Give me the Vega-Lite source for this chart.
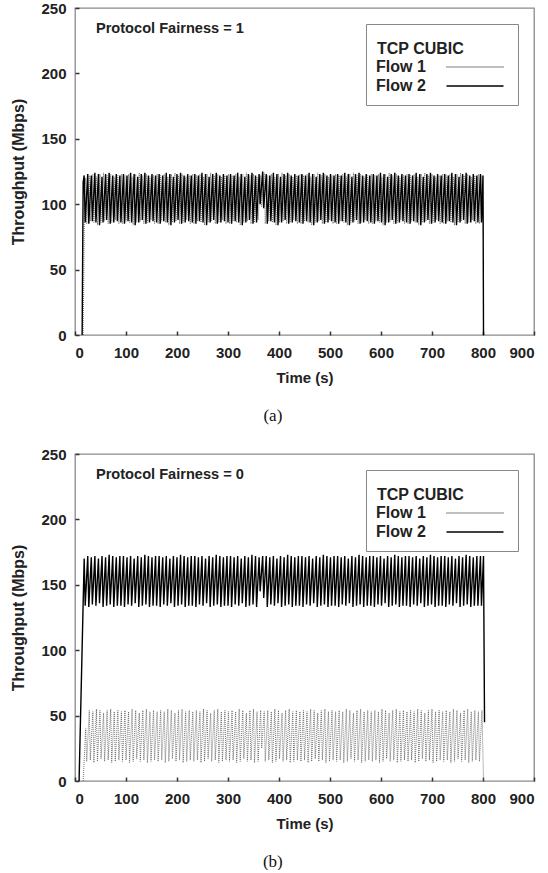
{
"$schema": "https://vega.github.io/schema/vega-lite/v6.json",
"background": "white",
"padding": {"left": 10, "top": 0, "right": 0, "bottom": 0},
"spacing": 22,
"config": {
  "font": "Liberation Sans",
  "view": {"stroke": "#8a8a8a", "strokeWidth": 1.3},
  "axis": {"domain": false, "grid": false, "tickSize": -4, "tickColor": "#333333", "tickWidth": 1.5, "labelFont": "Liberation Sans", "labelFontSize": 15, "labelFontWeight": "bold", "labelColor": "#222222", "titleFont": "Liberation Sans", "titleFontWeight": "bold", "titleColor": "#222222"},
  "axisX": {"labelPadding": 14, "titleFontSize": 15, "titlePadding": 10},
  "axisY": {"labelPadding": 13, "titleFontSize": 16, "titlePadding": 14},
  "legend": {"orient": "top-right", "offset": 16, "padding": 11, "strokeColor": "#888888", "fillColor": "white", "titleFont": "Liberation Sans", "titleFontSize": 16, "titleFontWeight": "bold", "titleColor": "#222222", "titlePadding": 2, "titleLineHeight": 6, "labelFont": "Liberation Sans", "labelFontSize": 16, "labelFontWeight": "bold", "labelColor": "#222222", "symbolType": "M-5,0L5,0", "symbolSize": 130, "symbolOffset": 90, "labelOffset": -107, "symbolStrokeWidth": 1.5, "rowPadding": 3}
},
"resolve": {"scale": {"color": "independent", "strokeDash": "independent"}},
"datasets": {
"a2": [{"t":14,"y":0},{"t":16,"y":117},{"t":18,"y":122},
{"t":20,"y":86},{"t":25,"y":123},{"t":27,"y":85},{"t":32,"y":122},{"t":34,"y":87},{"t":39,"y":124},{"t":41,"y":86},{"t":46,"y":123},{"t":48,"y":84},{"t":53,"y":121},{"t":55,"y":86},{"t":60,"y":123},{"t":62,"y":88},{"t":67,"y":124},{"t":69,"y":85},{"t":74,"y":122},{"t":76,"y":86},{"t":81,"y":123},{"t":83,"y":87},{"t":88,"y":122},
{"t":90,"y":86},{"t":95,"y":123},{"t":97,"y":85},{"t":102,"y":122},{"t":104,"y":87},{"t":109,"y":124},{"t":111,"y":86},{"t":116,"y":123},{"t":118,"y":84},{"t":123,"y":121},{"t":125,"y":86},{"t":130,"y":123},{"t":132,"y":88},{"t":137,"y":124},{"t":139,"y":85},{"t":144,"y":122},{"t":146,"y":86},{"t":151,"y":123},{"t":153,"y":87},{"t":158,"y":122},
{"t":160,"y":86},{"t":165,"y":123},{"t":167,"y":85},{"t":172,"y":122},{"t":174,"y":87},{"t":179,"y":124},{"t":181,"y":86},{"t":186,"y":123},{"t":188,"y":84},{"t":193,"y":121},{"t":195,"y":86},{"t":200,"y":123},{"t":202,"y":88},{"t":207,"y":124},{"t":209,"y":85},{"t":214,"y":122},{"t":216,"y":86},{"t":221,"y":123},{"t":223,"y":87},{"t":228,"y":122},
{"t":230,"y":86},{"t":235,"y":123},{"t":237,"y":85},{"t":242,"y":122},{"t":244,"y":87},{"t":249,"y":124},{"t":251,"y":86},{"t":256,"y":123},{"t":258,"y":84},{"t":263,"y":121},{"t":265,"y":86},{"t":270,"y":123},{"t":272,"y":88},{"t":277,"y":124},{"t":279,"y":85},{"t":284,"y":122},{"t":286,"y":86},{"t":291,"y":123},{"t":293,"y":87},{"t":298,"y":122},
{"t":300,"y":86},{"t":305,"y":123},{"t":307,"y":85},{"t":312,"y":122},{"t":314,"y":87},{"t":319,"y":124},{"t":321,"y":86},{"t":326,"y":123},{"t":328,"y":84},{"t":333,"y":121},{"t":335,"y":86},{"t":340,"y":123},{"t":342,"y":88},{"t":347,"y":124},{"t":349,"y":85},{"t":354,"y":122},{"t":356,"y":86},{"t":361,"y":123},{"t":363,"y":100},{"t":368,"y":125},
{"t":370,"y":97},{"t":375,"y":123},{"t":377,"y":85},{"t":382,"y":122},{"t":384,"y":87},{"t":389,"y":124},{"t":391,"y":86},{"t":396,"y":123},{"t":398,"y":84},{"t":403,"y":121},{"t":405,"y":86},{"t":410,"y":123},{"t":412,"y":88},{"t":417,"y":124},{"t":419,"y":85},{"t":424,"y":122},{"t":426,"y":86},{"t":431,"y":123},{"t":433,"y":87},{"t":438,"y":122},
{"t":440,"y":86},{"t":445,"y":123},{"t":447,"y":85},{"t":452,"y":122},{"t":454,"y":87},{"t":459,"y":124},{"t":461,"y":86},{"t":466,"y":123},{"t":468,"y":84},{"t":473,"y":121},{"t":475,"y":86},{"t":480,"y":123},{"t":482,"y":88},{"t":487,"y":124},{"t":489,"y":85},{"t":494,"y":122},{"t":496,"y":86},{"t":501,"y":123},{"t":503,"y":87},{"t":508,"y":122},
{"t":510,"y":86},{"t":515,"y":123},{"t":517,"y":85},{"t":522,"y":122},{"t":524,"y":87},{"t":529,"y":124},{"t":531,"y":86},{"t":536,"y":123},{"t":538,"y":84},{"t":543,"y":121},{"t":545,"y":86},{"t":550,"y":123},{"t":552,"y":88},{"t":557,"y":124},{"t":559,"y":85},{"t":564,"y":122},{"t":566,"y":86},{"t":571,"y":123},{"t":573,"y":87},{"t":578,"y":122},
{"t":580,"y":86},{"t":585,"y":123},{"t":587,"y":85},{"t":592,"y":122},{"t":594,"y":87},{"t":599,"y":124},{"t":601,"y":86},{"t":606,"y":123},{"t":608,"y":84},{"t":613,"y":121},{"t":615,"y":86},{"t":620,"y":123},{"t":622,"y":88},{"t":627,"y":124},{"t":629,"y":85},{"t":634,"y":122},{"t":636,"y":86},{"t":641,"y":123},{"t":643,"y":87},{"t":648,"y":122},
{"t":650,"y":86},{"t":655,"y":123},{"t":657,"y":85},{"t":662,"y":122},{"t":664,"y":87},{"t":669,"y":124},{"t":671,"y":86},{"t":676,"y":123},{"t":678,"y":84},{"t":683,"y":121},{"t":685,"y":86},{"t":690,"y":123},{"t":692,"y":88},{"t":697,"y":124},{"t":699,"y":85},{"t":704,"y":122},{"t":706,"y":86},{"t":711,"y":123},{"t":713,"y":87},{"t":718,"y":122},
{"t":720,"y":86},{"t":725,"y":123},{"t":727,"y":85},{"t":732,"y":122},{"t":734,"y":87},{"t":739,"y":124},{"t":741,"y":86},{"t":746,"y":123},{"t":748,"y":84},{"t":753,"y":121},{"t":755,"y":86},{"t":760,"y":123},{"t":762,"y":88},{"t":767,"y":124},{"t":769,"y":85},{"t":774,"y":122},{"t":776,"y":86},{"t":781,"y":123},{"t":783,"y":87},{"t":788,"y":122},
{"t":790,"y":86},{"t":795,"y":123},{"t":797,"y":86},{"t":800,"y":122},{"t":801,"y":0}],
"a1": [{"t":16,"y":0},{"t":19,"y":112},{"t":21,"y":120},
{"t":23,"y":85},{"t":28,"y":122},{"t":30,"y":87},{"t":35,"y":123},{"t":37,"y":86},{"t":42,"y":121},{"t":44,"y":84},{"t":49,"y":123},{"t":51,"y":86},{"t":56,"y":124},{"t":58,"y":87},{"t":63,"y":122},{"t":65,"y":85},{"t":70,"y":123},{"t":72,"y":86},{"t":77,"y":121},{"t":79,"y":88},{"t":84,"y":122},{"t":86,"y":85},{"t":91,"y":123},
{"t":93,"y":85},{"t":98,"y":122},{"t":100,"y":87},{"t":105,"y":123},{"t":107,"y":86},{"t":112,"y":121},{"t":114,"y":84},{"t":119,"y":123},{"t":121,"y":86},{"t":126,"y":124},{"t":128,"y":87},{"t":133,"y":122},{"t":135,"y":85},{"t":140,"y":123},{"t":142,"y":86},{"t":147,"y":121},{"t":149,"y":88},{"t":154,"y":122},{"t":156,"y":85},{"t":161,"y":123},
{"t":163,"y":85},{"t":168,"y":122},{"t":170,"y":87},{"t":175,"y":123},{"t":177,"y":86},{"t":182,"y":121},{"t":184,"y":84},{"t":189,"y":123},{"t":191,"y":86},{"t":196,"y":124},{"t":198,"y":87},{"t":203,"y":122},{"t":205,"y":85},{"t":210,"y":123},{"t":212,"y":86},{"t":217,"y":121},{"t":219,"y":88},{"t":224,"y":122},{"t":226,"y":85},{"t":231,"y":123},
{"t":233,"y":85},{"t":238,"y":122},{"t":240,"y":87},{"t":245,"y":123},{"t":247,"y":86},{"t":252,"y":121},{"t":254,"y":84},{"t":259,"y":123},{"t":261,"y":86},{"t":266,"y":124},{"t":268,"y":87},{"t":273,"y":122},{"t":275,"y":85},{"t":280,"y":123},{"t":282,"y":86},{"t":287,"y":121},{"t":289,"y":88},{"t":294,"y":122},{"t":296,"y":85},{"t":301,"y":123},
{"t":303,"y":85},{"t":308,"y":122},{"t":310,"y":87},{"t":315,"y":123},{"t":317,"y":86},{"t":322,"y":121},{"t":324,"y":84},{"t":329,"y":123},{"t":331,"y":86},{"t":336,"y":124},{"t":338,"y":87},{"t":343,"y":122},{"t":345,"y":85},{"t":350,"y":123},{"t":352,"y":86},{"t":357,"y":121},{"t":359,"y":88},{"t":364,"y":122},{"t":366,"y":98},{"t":371,"y":124},
{"t":373,"y":85},{"t":378,"y":122},{"t":380,"y":87},{"t":385,"y":123},{"t":387,"y":86},{"t":392,"y":121},{"t":394,"y":84},{"t":399,"y":123},{"t":401,"y":86},{"t":406,"y":124},{"t":408,"y":87},{"t":413,"y":122},{"t":415,"y":85},{"t":420,"y":123},{"t":422,"y":86},{"t":427,"y":121},{"t":429,"y":88},{"t":434,"y":122},{"t":436,"y":85},{"t":441,"y":123},
{"t":443,"y":85},{"t":448,"y":122},{"t":450,"y":87},{"t":455,"y":123},{"t":457,"y":86},{"t":462,"y":121},{"t":464,"y":84},{"t":469,"y":123},{"t":471,"y":86},{"t":476,"y":124},{"t":478,"y":87},{"t":483,"y":122},{"t":485,"y":85},{"t":490,"y":123},{"t":492,"y":86},{"t":497,"y":121},{"t":499,"y":88},{"t":504,"y":122},{"t":506,"y":85},{"t":511,"y":123},
{"t":513,"y":85},{"t":518,"y":122},{"t":520,"y":87},{"t":525,"y":123},{"t":527,"y":86},{"t":532,"y":121},{"t":534,"y":84},{"t":539,"y":123},{"t":541,"y":86},{"t":546,"y":124},{"t":548,"y":87},{"t":553,"y":122},{"t":555,"y":85},{"t":560,"y":123},{"t":562,"y":86},{"t":567,"y":121},{"t":569,"y":88},{"t":574,"y":122},{"t":576,"y":85},{"t":581,"y":123},
{"t":583,"y":85},{"t":588,"y":122},{"t":590,"y":87},{"t":595,"y":123},{"t":597,"y":86},{"t":602,"y":121},{"t":604,"y":84},{"t":609,"y":123},{"t":611,"y":86},{"t":616,"y":124},{"t":618,"y":87},{"t":623,"y":122},{"t":625,"y":85},{"t":630,"y":123},{"t":632,"y":86},{"t":637,"y":121},{"t":639,"y":88},{"t":644,"y":122},{"t":646,"y":85},{"t":651,"y":123},
{"t":653,"y":85},{"t":658,"y":122},{"t":660,"y":87},{"t":665,"y":123},{"t":667,"y":86},{"t":672,"y":121},{"t":674,"y":84},{"t":679,"y":123},{"t":681,"y":86},{"t":686,"y":124},{"t":688,"y":87},{"t":693,"y":122},{"t":695,"y":85},{"t":700,"y":123},{"t":702,"y":86},{"t":707,"y":121},{"t":709,"y":88},{"t":714,"y":122},{"t":716,"y":85},{"t":721,"y":123},
{"t":723,"y":85},{"t":728,"y":122},{"t":730,"y":87},{"t":735,"y":123},{"t":737,"y":86},{"t":742,"y":121},{"t":744,"y":84},{"t":749,"y":123},{"t":751,"y":86},{"t":756,"y":124},{"t":758,"y":87},{"t":763,"y":122},{"t":765,"y":85},{"t":770,"y":123},{"t":772,"y":86},{"t":777,"y":121},{"t":779,"y":88},{"t":784,"y":122},{"t":786,"y":85},{"t":791,"y":123},
{"t":793,"y":85},{"t":798,"y":122},{"t":801,"y":74}],
"b2": [{"t":8,"y":0},{"t":18,"y":170},
{"t":20,"y":134},{"t":25,"y":172},{"t":27,"y":133},{"t":32,"y":171},{"t":34,"y":135},{"t":39,"y":172},{"t":41,"y":134},{"t":46,"y":170},{"t":48,"y":136},{"t":53,"y":172},{"t":55,"y":133},{"t":60,"y":171},{"t":62,"y":134},{"t":67,"y":173},{"t":69,"y":135},{"t":74,"y":172},{"t":76,"y":133},{"t":81,"y":171},{"t":83,"y":134},{"t":88,"y":172},
{"t":90,"y":134},{"t":95,"y":172},{"t":97,"y":133},{"t":102,"y":171},{"t":104,"y":135},{"t":109,"y":172},{"t":111,"y":134},{"t":116,"y":170},{"t":118,"y":136},{"t":123,"y":172},{"t":125,"y":133},{"t":130,"y":171},{"t":132,"y":134},{"t":137,"y":173},{"t":139,"y":135},{"t":144,"y":172},{"t":146,"y":133},{"t":151,"y":171},{"t":153,"y":134},{"t":158,"y":172},
{"t":160,"y":134},{"t":165,"y":172},{"t":167,"y":133},{"t":172,"y":171},{"t":174,"y":135},{"t":179,"y":172},{"t":181,"y":134},{"t":186,"y":170},{"t":188,"y":136},{"t":193,"y":172},{"t":195,"y":133},{"t":200,"y":171},{"t":202,"y":134},{"t":207,"y":173},{"t":209,"y":135},{"t":214,"y":172},{"t":216,"y":133},{"t":221,"y":171},{"t":223,"y":134},{"t":228,"y":172},
{"t":230,"y":134},{"t":235,"y":172},{"t":237,"y":133},{"t":242,"y":171},{"t":244,"y":135},{"t":249,"y":172},{"t":251,"y":134},{"t":256,"y":170},{"t":258,"y":136},{"t":263,"y":172},{"t":265,"y":133},{"t":270,"y":171},{"t":272,"y":134},{"t":277,"y":173},{"t":279,"y":135},{"t":284,"y":172},{"t":286,"y":133},{"t":291,"y":171},{"t":293,"y":134},{"t":298,"y":172},
{"t":300,"y":134},{"t":305,"y":172},{"t":307,"y":133},{"t":312,"y":171},{"t":314,"y":135},{"t":319,"y":172},{"t":321,"y":134},{"t":326,"y":170},{"t":328,"y":136},{"t":333,"y":172},{"t":335,"y":133},{"t":340,"y":171},{"t":342,"y":134},{"t":347,"y":173},{"t":349,"y":135},{"t":354,"y":172},{"t":356,"y":133},{"t":361,"y":171},{"t":363,"y":145},{"t":368,"y":172},
{"t":370,"y":140},{"t":375,"y":172},{"t":377,"y":133},{"t":382,"y":171},{"t":384,"y":135},{"t":389,"y":172},{"t":391,"y":134},{"t":396,"y":170},{"t":398,"y":136},{"t":403,"y":172},{"t":405,"y":133},{"t":410,"y":171},{"t":412,"y":134},{"t":417,"y":173},{"t":419,"y":135},{"t":424,"y":172},{"t":426,"y":133},{"t":431,"y":171},{"t":433,"y":134},{"t":438,"y":172},
{"t":440,"y":134},{"t":445,"y":172},{"t":447,"y":133},{"t":452,"y":171},{"t":454,"y":135},{"t":459,"y":172},{"t":461,"y":134},{"t":466,"y":170},{"t":468,"y":136},{"t":473,"y":172},{"t":475,"y":133},{"t":480,"y":171},{"t":482,"y":134},{"t":487,"y":173},{"t":489,"y":135},{"t":494,"y":172},{"t":496,"y":133},{"t":501,"y":171},{"t":503,"y":134},{"t":508,"y":172},
{"t":510,"y":134},{"t":515,"y":172},{"t":517,"y":133},{"t":522,"y":171},{"t":524,"y":135},{"t":529,"y":172},{"t":531,"y":134},{"t":536,"y":170},{"t":538,"y":136},{"t":543,"y":172},{"t":545,"y":133},{"t":550,"y":171},{"t":552,"y":134},{"t":557,"y":173},{"t":559,"y":135},{"t":564,"y":172},{"t":566,"y":133},{"t":571,"y":171},{"t":573,"y":134},{"t":578,"y":172},
{"t":580,"y":134},{"t":585,"y":172},{"t":587,"y":133},{"t":592,"y":171},{"t":594,"y":135},{"t":599,"y":172},{"t":601,"y":134},{"t":606,"y":170},{"t":608,"y":136},{"t":613,"y":172},{"t":615,"y":133},{"t":620,"y":171},{"t":622,"y":134},{"t":627,"y":173},{"t":629,"y":135},{"t":634,"y":172},{"t":636,"y":133},{"t":641,"y":171},{"t":643,"y":134},{"t":648,"y":172},
{"t":650,"y":134},{"t":655,"y":172},{"t":657,"y":133},{"t":662,"y":171},{"t":664,"y":135},{"t":669,"y":172},{"t":671,"y":134},{"t":676,"y":170},{"t":678,"y":136},{"t":683,"y":172},{"t":685,"y":133},{"t":690,"y":171},{"t":692,"y":134},{"t":697,"y":173},{"t":699,"y":135},{"t":704,"y":172},{"t":706,"y":133},{"t":711,"y":171},{"t":713,"y":134},{"t":718,"y":172},
{"t":720,"y":134},{"t":725,"y":172},{"t":727,"y":133},{"t":732,"y":171},{"t":734,"y":135},{"t":739,"y":172},{"t":741,"y":134},{"t":746,"y":170},{"t":748,"y":136},{"t":753,"y":172},{"t":755,"y":133},{"t":760,"y":171},{"t":762,"y":134},{"t":767,"y":173},{"t":769,"y":135},{"t":774,"y":172},{"t":776,"y":133},{"t":781,"y":171},{"t":783,"y":134},{"t":788,"y":172},
{"t":790,"y":134},{"t":795,"y":172},{"t":797,"y":134},{"t":801,"y":172},{"t":803,"y":45}],
"b1": [{"t":16,"y":0},{"t":21,"y":40},
{"t":23,"y":15},{"t":28,"y":54},{"t":30,"y":16},{"t":35,"y":53},{"t":37,"y":14},{"t":42,"y":55},{"t":44,"y":15},{"t":49,"y":54},{"t":51,"y":17},{"t":56,"y":52},{"t":58,"y":15},{"t":63,"y":54},{"t":65,"y":16},{"t":70,"y":55},{"t":72,"y":14},{"t":77,"y":53},{"t":79,"y":15},{"t":84,"y":54},{"t":86,"y":16},{"t":91,"y":53},
{"t":93,"y":15},{"t":98,"y":54},{"t":100,"y":16},{"t":105,"y":53},{"t":107,"y":14},{"t":112,"y":55},{"t":114,"y":15},{"t":119,"y":54},{"t":121,"y":17},{"t":126,"y":52},{"t":128,"y":15},{"t":133,"y":54},{"t":135,"y":16},{"t":140,"y":55},{"t":142,"y":14},{"t":147,"y":53},{"t":149,"y":15},{"t":154,"y":54},{"t":156,"y":16},{"t":161,"y":53},
{"t":163,"y":15},{"t":168,"y":54},{"t":170,"y":16},{"t":175,"y":53},{"t":177,"y":14},{"t":182,"y":55},{"t":184,"y":15},{"t":189,"y":54},{"t":191,"y":17},{"t":196,"y":52},{"t":198,"y":15},{"t":203,"y":54},{"t":205,"y":16},{"t":210,"y":55},{"t":212,"y":14},{"t":217,"y":53},{"t":219,"y":15},{"t":224,"y":54},{"t":226,"y":16},{"t":231,"y":53},
{"t":233,"y":15},{"t":238,"y":54},{"t":240,"y":16},{"t":245,"y":53},{"t":247,"y":14},{"t":252,"y":55},{"t":254,"y":15},{"t":259,"y":54},{"t":261,"y":17},{"t":266,"y":52},{"t":268,"y":15},{"t":273,"y":54},{"t":275,"y":16},{"t":280,"y":55},{"t":282,"y":14},{"t":287,"y":53},{"t":289,"y":15},{"t":294,"y":54},{"t":296,"y":16},{"t":301,"y":53},
{"t":303,"y":15},{"t":308,"y":54},{"t":310,"y":16},{"t":315,"y":53},{"t":317,"y":14},{"t":322,"y":55},{"t":324,"y":15},{"t":329,"y":54},{"t":331,"y":17},{"t":336,"y":52},{"t":338,"y":15},{"t":343,"y":54},{"t":345,"y":16},{"t":350,"y":55},{"t":352,"y":14},{"t":357,"y":53},{"t":359,"y":15},{"t":364,"y":54},{"t":366,"y":25},{"t":371,"y":53},
{"t":373,"y":15},{"t":378,"y":54},{"t":380,"y":16},{"t":385,"y":53},{"t":387,"y":14},{"t":392,"y":55},{"t":394,"y":15},{"t":399,"y":54},{"t":401,"y":17},{"t":406,"y":52},{"t":408,"y":15},{"t":413,"y":54},{"t":415,"y":16},{"t":420,"y":55},{"t":422,"y":14},{"t":427,"y":53},{"t":429,"y":15},{"t":434,"y":54},{"t":436,"y":16},{"t":441,"y":53},
{"t":443,"y":15},{"t":448,"y":54},{"t":450,"y":16},{"t":455,"y":53},{"t":457,"y":14},{"t":462,"y":55},{"t":464,"y":15},{"t":469,"y":54},{"t":471,"y":17},{"t":476,"y":52},{"t":478,"y":15},{"t":483,"y":54},{"t":485,"y":16},{"t":490,"y":55},{"t":492,"y":14},{"t":497,"y":53},{"t":499,"y":15},{"t":504,"y":54},{"t":506,"y":16},{"t":511,"y":53},
{"t":513,"y":15},{"t":518,"y":54},{"t":520,"y":16},{"t":525,"y":53},{"t":527,"y":14},{"t":532,"y":55},{"t":534,"y":15},{"t":539,"y":54},{"t":541,"y":17},{"t":546,"y":52},{"t":548,"y":15},{"t":553,"y":54},{"t":555,"y":16},{"t":560,"y":55},{"t":562,"y":14},{"t":567,"y":53},{"t":569,"y":15},{"t":574,"y":54},{"t":576,"y":16},{"t":581,"y":53},
{"t":583,"y":15},{"t":588,"y":54},{"t":590,"y":16},{"t":595,"y":53},{"t":597,"y":14},{"t":602,"y":55},{"t":604,"y":15},{"t":609,"y":54},{"t":611,"y":17},{"t":616,"y":52},{"t":618,"y":15},{"t":623,"y":54},{"t":625,"y":16},{"t":630,"y":55},{"t":632,"y":14},{"t":637,"y":53},{"t":639,"y":15},{"t":644,"y":54},{"t":646,"y":16},{"t":651,"y":53},
{"t":653,"y":15},{"t":658,"y":54},{"t":660,"y":16},{"t":665,"y":53},{"t":667,"y":14},{"t":672,"y":55},{"t":674,"y":15},{"t":679,"y":54},{"t":681,"y":17},{"t":686,"y":52},{"t":688,"y":15},{"t":693,"y":54},{"t":695,"y":16},{"t":700,"y":55},{"t":702,"y":14},{"t":707,"y":53},{"t":709,"y":15},{"t":714,"y":54},{"t":716,"y":16},{"t":721,"y":53},
{"t":723,"y":15},{"t":728,"y":54},{"t":730,"y":16},{"t":735,"y":53},{"t":737,"y":14},{"t":742,"y":55},{"t":744,"y":15},{"t":749,"y":54},{"t":751,"y":17},{"t":756,"y":52},{"t":758,"y":15},{"t":763,"y":54},{"t":765,"y":16},{"t":770,"y":55},{"t":772,"y":14},{"t":777,"y":53},{"t":779,"y":15},{"t":784,"y":54},{"t":786,"y":16},{"t":791,"y":53},
{"t":793,"y":15},{"t":798,"y":54},{"t":801,"y":0}]
},
"vconcat": [
 {"title": {"text": "(a)", "orient": "bottom", "anchor": "middle", "frame": "bounds", "font": "Liberation Serif", "fontSize": 17, "fontWeight": "normal", "color": "#111111", "offset": 22},
  "resolve": {"scale": {"color": "independent", "strokeDash": "independent"}},
  "vconcat": [
   {"width": 459, "height": 327,
    "layer": [
     {"data": {"name": "a1"}, "mark": {"type": "line", "strokeWidth": 0.8, "strokeJoin": "bevel"},
      "encoding": {
       "x": {"field": "t", "type": "quantitative", "scale": {"domain": [0, 900], "nice": false}, "axis": {"values": [0,100,200,300,400,500,600,700,800,900], "title": "Time (s)"}},
       "y": {"field": "y", "type": "quantitative", "scale": {"domain": [0, 250], "nice": false}, "axis": {"values": [0,50,100,150,200,250], "title": "Throughput (Mbps)"}},
       "color": {"datum": "Flow 1", "scale": {"domain": ["Flow 1", "Flow 2"], "range": ["#555555", "#000000"]}, "legend": {"title": ["\u00a0", "TCP CUBIC"]}},
       "strokeDash": {"datum": "Flow 1", "scale": {"domain": ["Flow 1", "Flow 2"], "range": [[1, 1], [1, 0]]}, "legend": {"title": ["\u00a0", "TCP CUBIC"]}}
      }},
     {"data": {"name": "a2"}, "mark": {"type": "line", "strokeWidth": 1.4, "strokeJoin": "bevel"},
      "encoding": {
       "x": {"field": "t", "type": "quantitative"},
       "y": {"field": "y", "type": "quantitative"},
       "color": {"datum": "Flow 2"},
       "strokeDash": {"datum": "Flow 2"}
      }},
     {"data": {"values": [{"label": "Protocol Fairness = 1"}]},
      "mark": {"type": "text", "align": "left", "baseline": "middle", "font": "Liberation Sans", "fontSize": 14.6, "fontWeight": "bold", "color": "#222222"},
      "encoding": {"x": {"datum": 41}, "y": {"datum": 234}, "text": {"field": "label"}}}
    ]}
  ]},
 {"title": {"text": "(b)", "orient": "bottom", "anchor": "middle", "frame": "bounds", "font": "Liberation Serif", "fontSize": 17, "fontWeight": "normal", "color": "#111111", "offset": 22},
  "resolve": {"scale": {"color": "independent", "strokeDash": "independent"}},
  "vconcat": [
   {"width": 459, "height": 327,
    "layer": [
     {"data": {"name": "b1"}, "mark": {"type": "line", "strokeWidth": 0.8, "strokeJoin": "bevel"},
      "encoding": {
       "x": {"field": "t", "type": "quantitative", "scale": {"domain": [0, 900], "nice": false}, "axis": {"values": [0,100,200,300,400,500,600,700,800,900], "title": "Time (s)"}},
       "y": {"field": "y", "type": "quantitative", "scale": {"domain": [0, 250], "nice": false}, "axis": {"values": [0,50,100,150,200,250], "title": "Throughput (Mbps)"}},
       "color": {"datum": "Flow 1", "scale": {"domain": ["Flow 1", "Flow 2"], "range": ["#555555", "#000000"]}, "legend": {"title": ["\u00a0", "TCP CUBIC"]}},
       "strokeDash": {"datum": "Flow 1", "scale": {"domain": ["Flow 1", "Flow 2"], "range": [[1, 1], [1, 0]]}, "legend": {"title": ["\u00a0", "TCP CUBIC"]}}
      }},
     {"data": {"name": "b2"}, "mark": {"type": "line", "strokeWidth": 1.4, "strokeJoin": "bevel"},
      "encoding": {
       "x": {"field": "t", "type": "quantitative"},
       "y": {"field": "y", "type": "quantitative"},
       "color": {"datum": "Flow 2"},
       "strokeDash": {"datum": "Flow 2"}
      }},
     {"data": {"values": [{"label": "Protocol Fairness = 0"}]},
      "mark": {"type": "text", "align": "left", "baseline": "middle", "font": "Liberation Sans", "fontSize": 14.6, "fontWeight": "bold", "color": "#222222"},
      "encoding": {"x": {"datum": 41}, "y": {"datum": 234}, "text": {"field": "label"}}}
    ]}
  ]}
]
}
